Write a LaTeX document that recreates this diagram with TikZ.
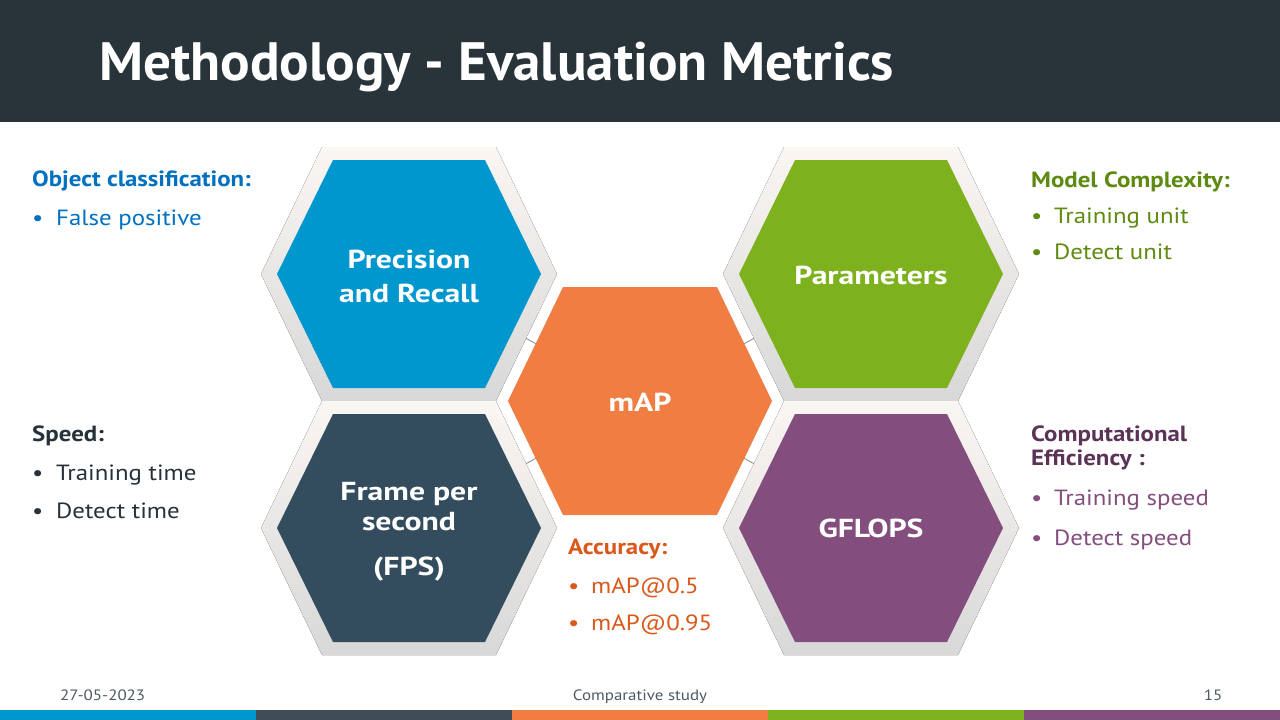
\documentclass[tikz,border=0pt]{standalone}
\usepackage{fontspec}
\setmainfont{PT Sans}[FakeStretch=1.13]
\newfontfamily\titlefont{PT Sans}[FakeStretch=1.02]
\newfontfamily\labelfont{PT Sans}[FakeStretch=1.22]
\definecolor{headbg}{HTML}{29333A}
\definecolor{cblue}{HTML}{0096CE}
\definecolor{cslate}{HTML}{334D5E}
\definecolor{corange}{HTML}{F07E43}
\definecolor{cgreen}{HTML}{7DB11D}
\definecolor{cpurple}{HTML}{834E7D}
\definecolor{cfootdark}{HTML}{3F4E56}
\definecolor{tblue}{HTML}{0070C0}
\definecolor{tdark}{HTML}{26313A}
\definecolor{tgreen}{HTML}{5E8A10}
\definecolor{tpurpleh}{HTML}{5B3357}
\definecolor{tpurple}{HTML}{834E7D}
\definecolor{torange}{HTML}{D9581A}
\definecolor{tfoot}{HTML}{4E5A63}
\definecolor{framelight}{HTML}{FAF6F2}
\definecolor{framedark}{HTML}{D8D8D8}
\definecolor{linkgray}{HTML}{8A8A8A}
% flat-topped hexagon: half width, half length of top edge, half height
\newcommand{\hexa}[3]{(-#1,0) -- (-#2,-#3) -- (#2,-#3) -- (#1,0) -- (#2,#3) -- (-#2,#3) -- cycle}
\begin{document}
\begin{tikzpicture}[x=1pt,y=-1pt,
  frame/.style={top color=framelight,bottom color=framedark,draw=none},
  link/.style={draw=linkgray,line width=0.8pt},
  hexlabel/.style={text=white,font=\labelfont\fontsize{26}{30}\selectfont\bfseries,anchor=base,inner sep=0pt},
  head/.style={font=\fontsize{22}{26}\selectfont\bfseries,anchor=base west,inner sep=0pt},
  item/.style={font=\fontsize{22}{26}\selectfont,anchor=base west,inner sep=0pt},
  foot/.style={text=tfoot,font=\fontsize{15}{17}\selectfont,anchor=base,inner sep=0pt}]
\useasboundingbox (0,0) rectangle (1280,720);
\fill[white] (0,0) rectangle (1280,720);

% header band and title
\fill[headbg] (0,0) rectangle (1280,122);
\node[anchor=base west,inner sep=0pt,text=white,font=\titlefont\fontsize{54}{60}\selectfont\bfseries] (title) at (99,80) {Methodology - Evaluation Metrics};

% hexagon centres
\coordinate (pr) at (409,274);
\coordinate (pa) at (871,274);
\coordinate (fp) at (409,528);
\coordinate (gf) at (871,528);
\coordinate (ma) at (640,401);

% links to the central metric
\draw[link] (pr) -- (ma);
\draw[link] (pa) -- (ma);
\draw[link] (fp) -- (ma);
\draw[link] (gf) -- (ma);

% shaded frames
\foreach \c in {pr,pa,fp,gf}
  \fill[frame,shift={(\c)}] \hexa{148}{87}{127};

% coloured hexagons
\fill[cblue,shift={(pr)}] \hexa{132}{76}{114};
\fill[cgreen,shift={(pa)}] \hexa{132}{76}{114};
\fill[cslate,shift={(fp)}] \hexa{132}{76}{114};
\fill[cpurple,shift={(gf)}] \hexa{132}{76}{114};
\fill[corange,shift={(ma)}] \hexa{132}{77}{114};

% hexagon labels
\node[hexlabel] (prA) at (409,268) {Precision};
\node[hexlabel] (prB) at (409,302) {and Recall};
\node[hexlabel] (paA) at (871,284) {Parameters};
\node[hexlabel] (maA) at (640,411) {mAP};
\node[hexlabel] (fpA) at (409,500) {Frame per};
\node[hexlabel] (fpB) at (409,530) {second};
\node[hexlabel] (fpC) at (409,575) {(FPS)};
\node[hexlabel] (gfA) at (871,537) {GFLOPS};

% object classification
\node[head,text=tblue] (ocH) at (32,186) {Object classification:};
\node[item,text=tblue] (ocB1) at (32,225) {•};
\node[item,text=tblue] (ocI1) at (56,225) {False positive};

% speed
\node[head,text=tdark] (spH) at (32,441) {Speed:};
\node[item,text=tdark] (spB1) at (32,480) {•};
\node[item,text=tdark] (spI1) at (56,480) {Training time};
\node[item,text=tdark] (spB2) at (32,518) {•};
\node[item,text=tdark] (spI2) at (56,518) {Detect time};

% model complexity
\node[head,text=tgreen] (mcH) at (1031,187) {Model Complexity:};
\node[item,text=tgreen] (mcB1) at (1031,223) {•};
\node[item,text=tgreen] (mcI1) at (1054,223) {Training unit};
\node[item,text=tgreen] (mcB2) at (1031,259) {•};
\node[item,text=tgreen] (mcI2) at (1054,259) {Detect unit};

% computational efficiency
\node[head,text=tpurpleh] (ceH1) at (1031,441) {Computational};
\node[head,text=tpurpleh] (ceH2) at (1031,465) {Efficiency :};
\node[item,text=tpurple] (ceB1) at (1031,505) {•};
\node[item,text=tpurple] (ceI1) at (1054,505) {Training speed};
\node[item,text=tpurple] (ceB2) at (1031,545) {•};
\node[item,text=tpurple] (ceI2) at (1054,545) {Detect speed};

% accuracy
\node[head,text=torange] (acH) at (568,554) {Accuracy:};
\node[item,text=torange] (acB1) at (568,593) {•};
\node[item,text=torange] (acI1) at (591,593) {mAP@0.5};
\node[item,text=torange] (acB2) at (568,630) {•};
\node[item,text=torange] (acI2) at (591,630) {mAP@0.95};

% footer
\node[foot,anchor=base west] (date) at (60,700) {27-05-2023};
\node[foot] (study) at (640,700) {Comparative study};
\node[foot] (page) at (1213,700) {15};
\fill[cblue] (0,710) rectangle (256,720);
\fill[cfootdark] (256,710) rectangle (512,720);
\fill[corange] (512,710) rectangle (768,720);
\fill[cgreen] (768,710) rectangle (1024,720);
\fill[cpurple] (1024,710) rectangle (1280,720);
\end{tikzpicture}
\end{document}
